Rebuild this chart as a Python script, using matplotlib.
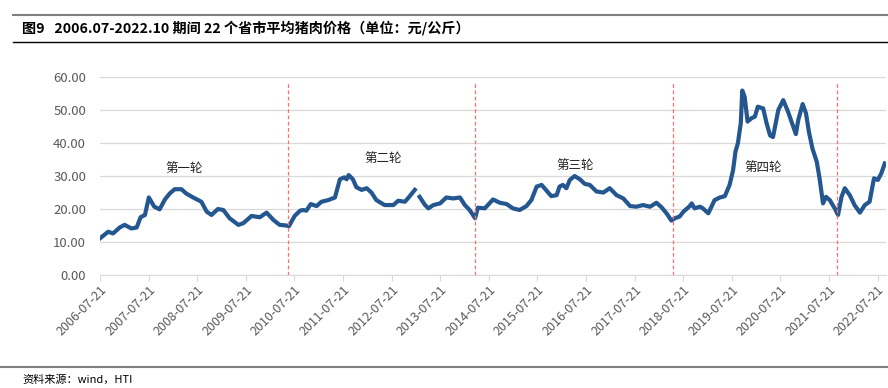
import numpy as np
import pandas as pd
import matplotlib
matplotlib.use("Agg")
import matplotlib.pyplot as plt

plt.rcParams['font.family'] = ['Noto Sans CJK SC', 'DejaVu Sans']

# average pork price of 22 provinces (yuan/kg)
dates = [
    "2006-07-21", "2006-09-20", "2006-10-27", "2006-12-16", "2007-01-22", "2007-03-14",
    "2007-04-23", "2007-05-22", "2007-06-24", "2007-07-23", "2007-09-02", "2007-10-12",
    "2007-11-21", "2007-12-27", "2008-02-02", "2008-03-24", "2008-04-29", "2008-06-20",
    "2008-08-21", "2008-09-30", "2008-11-05", "2008-12-23", "2009-02-02", "2009-03-21",
    "2009-05-26", "2009-07-02", "2009-09-02", "2009-11-03", "2009-12-24", "2010-02-13",
    "2010-04-01", "2010-05-22", "2010-06-10", "2010-07-23", "2010-09-02", "2010-09-23",
    "2010-10-19", "2010-11-21", "2011-01-04", "2011-02-09", "2011-04-01", "2011-05-22",
    "2011-06-28", "2011-07-31", "2011-08-18", "2011-09-02", "2011-10-04", "2011-10-30",
    "2011-12-09", "2012-01-15", "2012-02-20", "2012-03-28", "2012-05-29", "2012-08-03",
    "2012-09-08", "2012-10-29", "2012-12-04", "2013-01-11", "2013-01-30", "2013-02-16",
    "2013-03-29", "2013-04-23", "2013-05-30", "2013-07-20", "2013-09-05", "2013-10-26",
    "2013-12-16", "2014-01-22", "2014-02-27", "2014-04-09", "2014-04-30", "2014-06-21",
    "2014-08-22", "2014-10-12", "2014-12-02", "2015-01-18", "2015-03-10", "2015-04-30",
    "2015-06-06", "2015-07-16", "2015-08-22", "2015-09-27", "2015-11-03", "2015-12-13",
    "2016-01-04", "2016-01-29", "2016-02-24", "2016-03-21", "2016-04-26", "2016-06-05",
    "2016-07-12", "2016-08-18", "2016-10-08", "2016-11-28", "2017-01-15", "2017-03-07",
    "2017-04-27", "2017-06-17", "2017-08-03", "2017-09-23", "2017-11-14", "2018-01-01",
    "2018-02-09", "2018-03-18", "2018-04-23", "2018-05-19", "2018-06-24", "2018-07-23",
    "2018-09-09", "2018-09-23", "2018-10-15", "2018-11-24", "2018-12-16", "2019-01-26",
    "2019-03-14", "2019-04-23", "2019-05-30", "2019-07-05", "2019-07-31", "2019-08-18",
    "2019-09-05", "2019-09-27", "2019-10-08", "2019-10-26", "2019-11-17", "2019-12-16",
    "2020-01-11", "2020-02-02", "2020-03-13", "2020-04-08", "2020-05-04", "2020-05-26",
    "2020-07-05", "2020-08-11", "2020-09-16", "2020-10-12", "2020-11-14", "2020-12-02",
    "2021-01-04", "2021-01-29", "2021-02-20", "2021-03-18", "2021-04-20", "2021-05-11",
    "2021-06-06", "2021-06-28", "2021-07-27", "2021-09-02", "2021-09-27", "2021-10-23",
    "2021-11-17", "2021-12-24", "2022-01-29", "2022-03-10", "2022-04-16", "2022-05-22",
    "2022-06-24", "2022-07-23", "2022-08-18", "2022-09-13",
]
prices = [
    11.1, 13.1, 12.6, 14.4, 15.2, 14.1,
    14.4, 17.5, 18.2, 23.5, 20.7, 19.9,
    22.9, 24.7, 26.0, 26.0, 24.7, 23.5,
    22.2, 19.2, 18.2, 20.0, 19.7, 17.2,
    15.2, 15.7, 17.9, 17.5, 18.9, 16.7,
    15.2, 15.0, 14.8, 17.9, 19.5, 19.7,
    19.5, 21.5, 20.9, 22.2, 22.7, 23.5,
    29.0, 29.6, 29.0, 30.3, 29.0, 26.6,
    25.8, 26.3, 25.0, 22.7, 21.2, 21.2,
    22.5, 22.2, 23.9, 25.8, np.nan, 23.7,
    21.2, 20.2, 21.2, 21.7, 23.5, 23.2,
    23.5, 21.2, 19.7, 17.2, 20.4, 20.2,
    22.9, 21.9, 21.5, 20.2, 19.7, 20.9,
    22.7, 26.8, 27.3, 25.6, 23.9, 24.2,
    26.8, 27.3, 26.3, 28.8, 30.0, 29.0,
    27.6, 27.3, 25.3, 25.0, 26.3, 24.2,
    23.2, 20.9, 20.7, 21.2, 20.7, 21.9,
    20.5, 18.7, 16.5, 17.2, 17.7, 19.2,
    20.9, 21.7, 20.2, 20.7, 20.2, 18.7,
    22.7, 23.5, 23.9, 27.3, 31.8, 37.4,
    39.9, 46.0, 55.9, 54.0, 46.5, 47.5,
    48.0, 51.0, 50.5, 46.0, 42.3, 41.8,
    50.0, 53.0, 49.5, 46.5, 42.7, 47.0,
    51.8, 49.0, 43.4, 38.4, 34.3, 29.3,
    21.7, 23.7, 22.7, 20.2, 18.2, 23.7,
    26.3, 24.2, 21.2, 18.9, 21.2, 22.2,
    29.3, 28.8, 30.8, 33.8,
]

# boundaries of the four pig cycles
cycle_bounds = ["2010-06-04", "2014-04-08", "2018-05-08", "2021-09-18"]
cycle_labels = ["第一轮", "第二轮", "第三轮", "第四轮"]
label_dates = ["2008-04-10", "2012-05-20", "2016-05-01", "2020-03-10"]
label_values = [32.4, 35.2, 33.3, 32.7]

tick_dates = [f"{y}-07-21" for y in range(2006, 2023)]

dates = pd.to_datetime(dates)
tick_dates = pd.to_datetime(tick_dates)

fig = plt.figure(figsize=(8.88, 3.88), dpi=100)
ax = fig.add_axes([0.1126, 0.2912, 0.8851, 0.5103])

ax.plot(dates, prices, color="#245690", lw=3.0, solid_joinstyle="round")

for d in cycle_bounds:
    ax.plot([pd.Timestamp(d)] * 2, [0, 58.2], color="#ff7070", lw=0.9, ls=(0, (3, 2)))

for lbl, d, v in zip(cycle_labels, label_dates, label_values):
    ax.text(pd.Timestamp(d), v, lbl, ha="center", va="center", fontsize=9, color="#222222")

ax.set_ylim(0, 60)
ax.set_xlim(pd.Timestamp("2006-07-21"), pd.Timestamp("2022-09-22"))
ax.set_yticks(np.arange(0, 61, 10))
ax.set_yticklabels([f"{v:.2f}" for v in np.arange(0, 61, 10)])
ax.set_xticks(tick_dates)
ax.set_xticklabels([d.strftime("%Y-%m-%d") for d in tick_dates], rotation=45,
                   ha="right", rotation_mode="anchor")
ax.grid(axis="y", color="#d9d9d9", lw=0.9)
ax.set_axisbelow(True)
for s in ["top", "right", "left"]:
    ax.spines[s].set_visible(False)
ax.spines["bottom"].set_color("#d9d9d9")
ax.tick_params(axis="y", length=0, labelsize=9.5, labelcolor="#595959", pad=10)
ax.tick_params(axis="x", length=4, color="#d9d9d9", labelsize=9, labelcolor="#595959", pad=2)

# title and source frame
fig.add_artist(plt.Line2D([0.015, 1.0], [1 - 15 / 388] * 2, color="#7f7f7f", lw=1.5))
fig.add_artist(plt.Line2D([0.015, 1.0], [1 - 42 / 388] * 2, color="#000000", lw=1.0))
fig.text(0.025, 1 - 28 / 388, "图9   2006.07-2022.10 期间 22 个省市平均猪肉价格（单位：元/公斤）",
         fontsize=10.2, fontweight="bold", va="center", ha="left")
fig.add_artist(plt.Line2D([0.0, 1.0], [1 - 367 / 388] * 2, color="#7f7f7f", lw=1.5))
fig.text(0.025, 1 - 379 / 388, "资料来源：wind，HTI", fontsize=8, va="center", ha="left")

fig.savefig("out.png", dpi=100)
